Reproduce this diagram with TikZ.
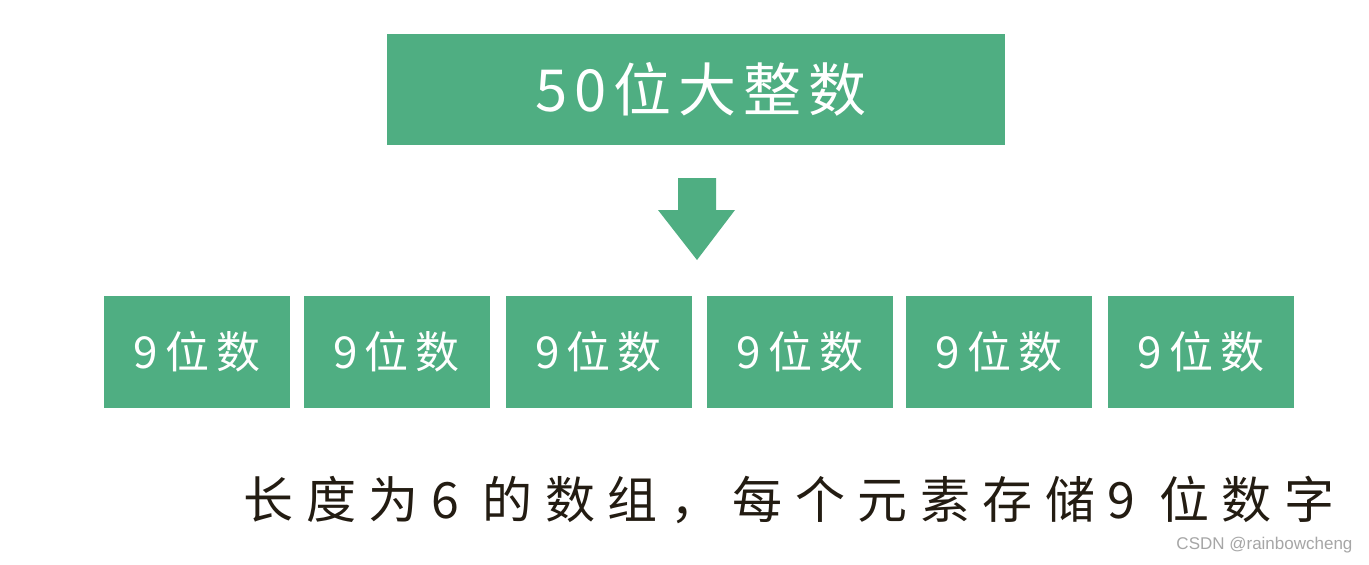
\documentclass[tikz,border=0pt]{standalone}
\usepackage{fontspec}
\setmainfont{Noto Sans CJK SC}
\newfontfamily\cjkfont{Noto Sans CJK SC}
\newfontfamily\cjktop[LetterSpace=12]{Noto Sans CJK SC}
\newfontfamily\cjkbox[LetterSpace=16]{Noto Sans CJK SC}
\newfontfamily\cjkcap[LetterSpace=25]{Noto Sans CJK SC}
\newfontfamily\wmfont{Liberation Sans}
\definecolor{boxgreen}{HTML}{4FAE82}
\definecolor{inkdark}{HTML}{231C12}
\begin{document}
\begin{tikzpicture}[x=1pt,y=-1pt,
  gbox/.style={fill=boxgreen, draw=none, inner sep=0pt},
  btext/.style={text=white, font=\cjkbox\fontsize{44}{48}\selectfont},
]
\useasboundingbox (0,0) rectangle (1369,565);
\fill[white] (0,0) rectangle (1369,565);
% top box
\node[gbox, minimum width=618pt, minimum height=111pt] (top) at (696,89.5) {};
\node[text=white, font=\cjktop\fontsize{58}{62}\selectfont] (toptext) at ([xshift=5pt]top.center) {50位大整数};
% arrow
\fill[boxgreen] (678,178) -- (716,178) -- (716,210) -- (735,210) -- (697,260) -- (658,210) -- (678,210) -- cycle;
% bottom boxes
\foreach \i/\x in {1/197,2/396.5,3/598.5,4/800,5/999,6/1201}{
  \node[gbox, minimum width=186pt, minimum height=112pt] (b\i) at (\x,352) {};
  \node[btext] (t\i) at ([xshift=0pt]b\i.center) {9位数};
}
% caption
\node[text=inkdark, font=\cjkcap\fontsize{50}{54}\selectfont, anchor=center] (cap) at (789,500) {长度为6 的数组，每个元素存储9 位数字};
% watermark
\node[text=gray!70, font=\wmfont\fontsize{17}{19}\selectfont, anchor=east] (wm) at (1356,545) {CSDN @rainbowcheng};
\end{tikzpicture}
\end{document}
